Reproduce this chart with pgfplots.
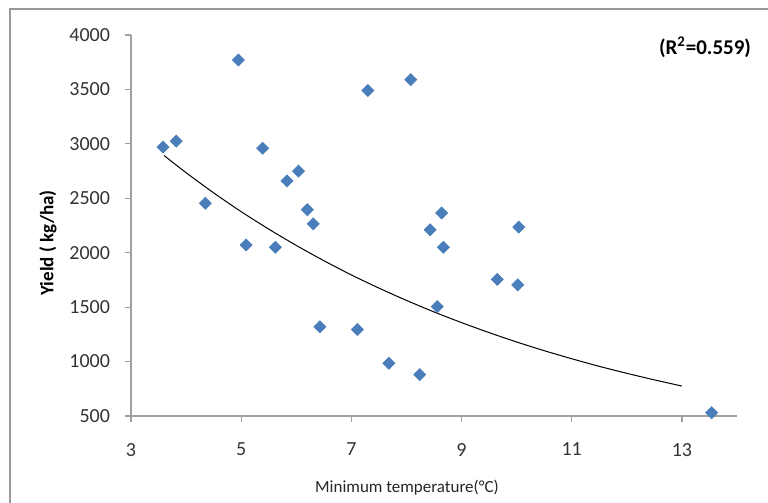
\documentclass[border=0pt]{standalone}
\usepackage{pgfplots}
\pgfplotsset{compat=1.18}
\usepackage{fontspec}
\setmainfont{Carlito}

\definecolor{colPt}{RGB}{74,126,187}
\definecolor{colAx}{RGB}{160,160,160}

\begin{document}
\begin{tikzpicture}
\path[use as bounding box] (0,0) rectangle (384pt,251.5pt);
\begin{scope}
  \clip (0,0) rectangle (384pt,251.5pt);
  \draw[gray!80, line width=1pt] (5pt,-20pt) rectangle (420pt,246.75pt);
\end{scope}

\begin{axis}[
    at={(65.5pt,43.5pt)}, anchor=south west,
    width=303pt, height=190.5pt, scale only axis,
    xmin=3, xmax=14, ymin=500, ymax=4000,
    xtick={3,5,7,9,11,13},
    ytick={500,1000,1500,2000,2500,3000,3500,4000},
    axis lines=left,
    axis line style={colAx, -, line width=0.6pt},
    tick style={colAx, line width=0.6pt},
    tick align=outside,
    major tick length=3pt,
    ticklabel style={font=\fontsize{10}{12}\selectfont, text=black!80},
    xticklabel style={yshift=-7pt},
    yticklabel style={xshift=-4pt},
    /pgf/number format/assume math mode=true,
    /pgf/number format/1000 sep={},
    clip=false,
]
\addplot[only marks, mark=square*, mark size=2.1pt,
         mark options={fill=colPt, draw=colPt, rotate=45}] coordinates {
    (3.58,2970) (3.82,3025) (4.35,2455) (4.95,3770) (5.39,2960)
    (5.09,2070) (5.62,2050) (5.83,2660) (6.04,2750) (6.20,2395)
    (6.31,2265) (7.30,3490) (6.43,1320) (7.11,1295) (7.68,985)
    (8.08,3590) (8.24,880)  (8.64,2365) (8.43,2210) (8.67,2050)
    (10.04,2235) (8.56,1505) (9.65,1755) (10.02,1705) (13.54,530)
};
\addplot[black, line width=0.5pt, smooth] coordinates {
    (3.6,2893) (4,2735) (4.5,2550) (5,2377) (5.5,2217) (6,2067)
    (6.5,1927) (7,1796) (7.5,1675) (8,1562) (8.5,1456) (9,1358)
    (9.5,1266) (10,1180) (10.5,1100) (11,1026) (11.5,956) (12,892)
    (12.5,832) (13,775)
};
\end{axis}

\node[font=\fontsize{8.5}{10}\selectfont, text=black!85] at (203.5pt,7.5pt)
    {Minimum temperature(°C)};
\node[font=\fontsize{9.5}{11}\selectfont\bfseries, rotate=90] at (24pt,130pt)
    {Yield ( kg/ha)};
\node[font=\fontsize{10.5}{12}\selectfont\bfseries] at (352.5pt,228pt)
    {(R\textsuperscript{2}=0.559)};
\end{tikzpicture}
\end{document}
